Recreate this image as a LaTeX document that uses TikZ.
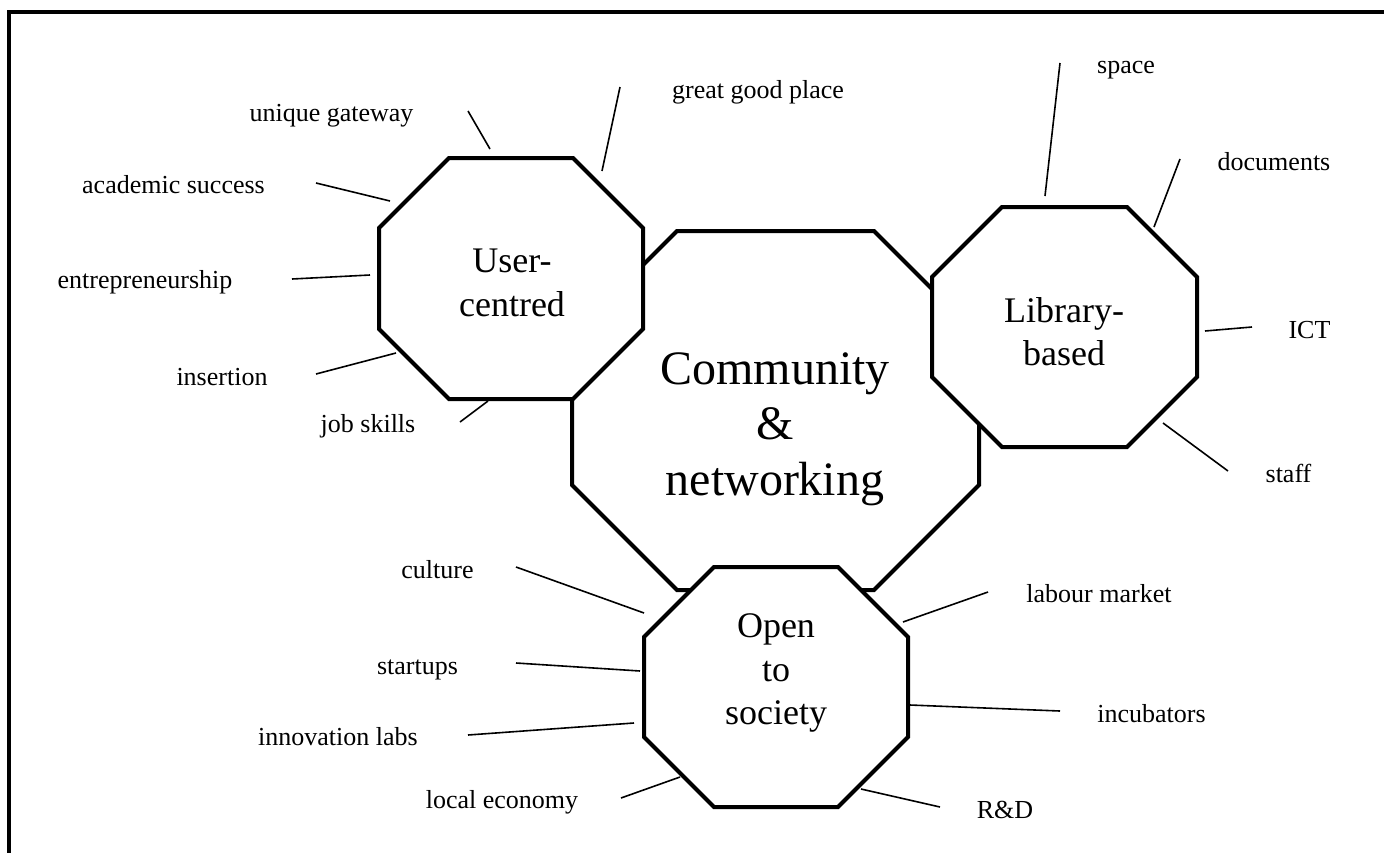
\documentclass[tikz,border=0pt]{standalone}
\usepackage{fontspec}
\setmainfont{Liberation Serif}
\newcommand\octagonshape[5]{%
  \filldraw[octo] ({#1+#5},#2) -- ({#3-#5},#2) -- (#3,{#2+#5}) -- (#3,{#4-#5})
    -- ({#3-#5},#4) -- ({#1+#5},#4) -- (#1,{#4-#5}) -- (#1,{#2+#5}) -- cycle;}
\tikzset{
  octo/.style={line width=4pt, draw=black, fill=white},
  spoke/.style={line width=1.6pt},
  lbl/.style={font=\fontsize{26}{30}\selectfont, inner sep=0pt, anchor=base},
  smalltitle/.style={font=\fontsize{36}{43.5}\selectfont, align=center, inner sep=0pt},
  bigtitle/.style={font=\fontsize{48}{55.5}\selectfont, align=center, inner sep=0pt},
  frameline/.style={line width=3.5pt}
}
\begin{document}
\begin{tikzpicture}[x=1pt,y=-1pt]
\useasboundingbox (0,0) rectangle (1384,852);
\draw[frameline] (9,860) -- (9,12) -- (1390,12);

% octagons
\octagonshape{572}{231}{979}{590}{105}
\octagonshape{379}{158}{643}{399}{70}
\octagonshape{932}{207}{1197}{447}{70}
\octagonshape{644}{567}{908}{807}{70}

% titles
\node[bigtitle] (comm) at (775,429) {Community\\\&\\networking};
\node[smalltitle] (user) at (512,283) {User-\\centred};
\node[smalltitle] (lib) at (1064,331.5) {Library-\\based};
\node[smalltitle] (open) at (776,673) {Open\\to\\society};

% labels
\node[lbl] (ug) at (331.5,121) {unique gateway};
\node[lbl] (ggp) at (758,98) {great good place};
\node[lbl] (as) at (173.5,193) {academic success};
\node[lbl] (ent) at (145,288) {entrepreneurship};
\node[lbl] (ins) at (222,385) {insertion};
\node[lbl] (js) at (368,432) {job skills};
\node[lbl] (spc) at (1126,73) {space};
\node[lbl] (doc) at (1274,170) {documents};
\node[lbl] (ict) at (1309.5,338) {ICT};
\node[lbl] (stf) at (1288.5,482) {staff};
\node[lbl] (cul) at (437.5,578) {culture};
\node[lbl] (stu) at (417.5,674) {startups};
\node[lbl] (inl) at (338,745) {innovation labs};
\node[lbl] (loc) at (502,808) {local economy};
\node[lbl] (lab) at (1099,602) {labour market};
\node[lbl] (inc) at (1151.5,722) {incubators};
\node[lbl] (rd) at (1005,818) {R\&D};

% spoke end points
\coordinate (ugA) at (468,111);   \coordinate (ugB) at (490,149);
\coordinate (ggpA) at (620,87);   \coordinate (ggpB) at (602,171);
\coordinate (asA) at (316,183);   \coordinate (asB) at (390,201);
\coordinate (entA) at (292,279);  \coordinate (entB) at (370,275);
\coordinate (insA) at (316,374);  \coordinate (insB) at (396,353);
\coordinate (jsA) at (460,422);   \coordinate (jsB) at (488,401);
\coordinate (spcA) at (1060,63);  \coordinate (spcB) at (1045,196);
\coordinate (docA) at (1180,159); \coordinate (docB) at (1154,227);
\coordinate (ictA) at (1252,327); \coordinate (ictB) at (1205,331);
\coordinate (stfA) at (1228,471); \coordinate (stfB) at (1163,423);
\coordinate (culA) at (516,567);  \coordinate (culB) at (644,613);
\coordinate (stuA) at (516,663);  \coordinate (stuB) at (640,671);
\coordinate (inlA) at (468,735);  \coordinate (inlB) at (634,723);
\coordinate (locA) at (621,798);  \coordinate (locB) at (680,777);
\coordinate (labA) at (988,592);  \coordinate (labB) at (903,622);
\coordinate (incA) at (1060,711); \coordinate (incB) at (910,705);
\coordinate (rdA) at (940,807);   \coordinate (rdB) at (861,789);

\foreach \s in {ug,ggp,as,ent,ins,js,spc,doc,ict,stf,cul,stu,inl,loc,lab,inc,rd}
  \draw[spoke] (\s A) -- (\s B);
\end{tikzpicture}
\end{document}
